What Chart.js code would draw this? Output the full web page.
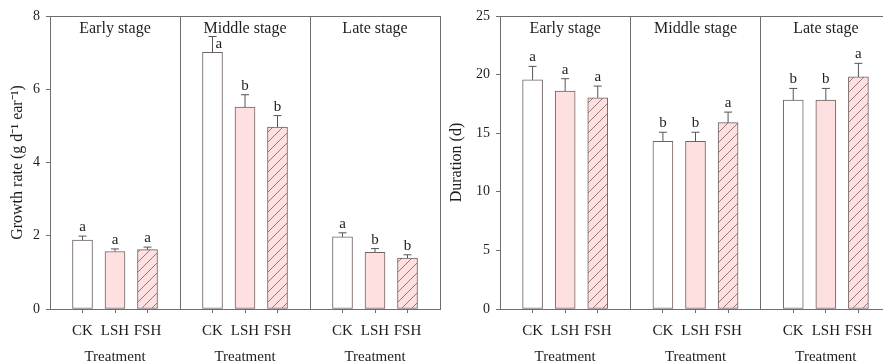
<!DOCTYPE html>
<html>
<head>
<meta charset="utf-8">
<script src="https://cdn.jsdelivr.net/npm/chart.js@4"></script>
<style>
  html, body { margin: 0; padding: 0; background: #fff; overflow: hidden; }
  body { width: 883px; height: 363px; position: relative; }
  .panel { position: absolute; top: 0; height: 363px; }
  #left { left: 0; width: 445px; }
  #right { left: 441px; width: 455px; }
</style>
</head>
<body>
<div class="panel" id="left"><canvas id="growth"></canvas></div>
<div class="panel" id="right"><canvas id="duration"></canvas></div>
<script>
const stages = ['Early stage', 'Middle stage', 'Late stage'];
const treatments = ['CK', 'LSH', 'FSH'];

// growth rate (g d-1 ear-1), per treatment across stages
const growthCK = [1.88, 7.01, 1.97];
const growthLSH = [1.57, 5.51, 1.55];
const growthFSH = [1.62, 4.97, 1.39];
const growthErrCK = [0.11, 0.43, 0.11];
const growthErrLSH = [0.07, 0.34, 0.10];
const growthErrFSH = [0.07, 0.31, 0.09];
const growthLettersCK = ['a', 'a', 'a'];
const growthLettersLSH = ['a', 'b', 'b'];
const growthLettersFSH = ['a', 'b', 'b'];
const growthTicks = [0, 2, 4, 6, 8];

// duration (d)
const durationCK = [19.56, 14.31, 17.82];
const durationLSH = [18.6, 14.31, 17.82];
const durationFSH = [18.02, 15.9, 19.8];
const durationErrCK = [1.14, 0.77, 1.0];
const durationErrLSH = [1.05, 0.77, 1.0];
const durationErrFSH = [1.0, 0.9, 1.16];
const durationLettersCK = ['a', 'b', 'b'];
const durationLettersLSH = ['a', 'b', 'b'];
const durationLettersFSH = ['a', 'a', 'a'];
const durationTicks = [0, 5, 10, 15, 20, 25];

const SERIF = '"Liberation Serif", "Times New Roman", serif';
const AXIS = '#6e6e6e';
const TEXT = '#1e1e1e';
const PINK = '#fde0df';
const EDGE = '#6f6262';

const hatch = (() => {
  const c = document.createElement('canvas');
  c.width = 10; c.height = 10;
  const g = c.getContext('2d');
  g.fillStyle = PINK;
  g.fillRect(0, 0, 10, 10);
  g.strokeStyle = 'rgba(110,80,80,0.8)';
  g.lineWidth = 0.9;
  g.beginPath();
  g.moveTo(-1, 11); g.lineTo(11, -1);
  g.moveTo(-1, 1); g.lineTo(1, -1);
  g.moveTo(9, 11); g.lineTo(11, 9);
  g.stroke();
  return g.createPattern(c, 'repeat');
})();

// bar slot along the x axis: 4 units per stage, bars at 1,2,3
const slot = (stage, t) => stage * 4 + t + 1;
const toPoints = (values, t) => values.map((y, s) => ({ x: slot(s, t), y }));

const barDataset = (label, values, errors, letters, t, fill) => ({
  label,
  data: toPoints(values, t),
  errors,
  letters,
  backgroundColor: fill,
  borderColor: EDGE,
  borderWidth: 1,
  borderSkipped: false,
  barThickness: 20,
  grouped: false,
});

const errorBars = {
  id: 'errorBars',
  afterDatasetsDraw(chart) {
    const { ctx, chartArea, scales: { y } } = chart;
    ctx.save();
    chart.data.datasets.forEach((ds, i) => {
      chart.getDatasetMeta(i).data.forEach((bar, j) => {
        const top = y.getPixelForValue(ds.data[j].y + ds.errors[j]);
        ctx.strokeStyle = '#555';
        ctx.lineWidth = 1;
        ctx.beginPath();
        ctx.moveTo(bar.x, bar.y);
        ctx.lineTo(bar.x, top);
        ctx.moveTo(bar.x - 4, top);
        ctx.lineTo(bar.x + 4, top);
        ctx.stroke();
        ctx.fillStyle = TEXT;
        ctx.font = `15px ${SERIF}`;
        ctx.textBaseline = 'alphabetic';
        if (top - 16 < chartArea.top + 26) {
          ctx.textAlign = 'left';
          ctx.fillText(ds.letters[j], bar.x + 3, top + 11);
        } else {
          ctx.textAlign = 'center';
          ctx.fillText(ds.letters[j], bar.x, top - 5);
        }
      });
    });
    ctx.restore();
  },
};

const stageTitles = {
  id: 'stageTitles',
  afterDraw(chart) {
    const { ctx, chartArea, scales: { x } } = chart;
    ctx.save();
    ctx.fillStyle = TEXT;
    ctx.font = `16px ${SERIF}`;
    ctx.textAlign = 'center';
    ctx.textBaseline = 'middle';
    stages.forEach((s, i) => {
      ctx.fillText(s, x.getPixelForValue(i * 4 + 2), chartArea.top + 13);
    });
    ctx.restore();
  },
};

const buildChart = (id, title, yTicks, series, yTitlePad) =>
  new Chart(document.getElementById(id), {
    type: 'bar',
    data: { datasets: series },
    plugins: [errorBars, stageTitles],
    options: {
      responsive: true,
      maintainAspectRatio: false,
      animation: false,
      layout: { padding: { top: 16, right: 5, left: 0, bottom: 0 } },
      plugins: { legend: { display: false }, tooltip: { enabled: false } },
      scales: {
        x: {
          type: 'linear',
          min: 0,
          max: 12,
          offset: false,
          afterBuildTicks: (s) => {
            s.ticks = [1, 2, 3, 4, 5, 6, 7, 8, 9, 10, 11, 12].map((value) => ({ value }));
          },
          afterFit: (s) => {
            s.height = 54;
            s.paddingLeft = 0;
            s.paddingRight = 0;
          },
          border: { color: AXIS, width: 1 },
          grid: {
            offset: false,
            color: (c) => (c.tick && c.tick.value % 4 === 0 ? AXIS : 'transparent'),
            tickColor: (c) => (c.tick && c.tick.value % 4 === 0 ? 'transparent' : AXIS),
            tickLength: 4,
          },
          ticks: {
            autoSkip: false,
            maxRotation: 0,
            padding: 5,
            color: TEXT,
            font: { family: SERIF, size: 15, lineHeight: 1.73 },
            callback: (v) => {
              if (v % 4 === 0) return '';
              const t = treatments[(v % 4) - 1];
              return t === 'LSH' ? [t, 'Treatment'] : t;
            },
          },
        },
        y: {
          min: yTicks[0],
          max: yTicks[yTicks.length - 1],
          afterBuildTicks: (s) => { s.ticks = yTicks.map((value) => ({ value })); },
          afterFit: (s) => { s.width = id === 'growth' ? 50 : 59; },
          border: { color: AXIS, width: 1 },
          grid: {
            color: (c) => (c.tick && c.tick.value === yTicks[yTicks.length - 1] ? AXIS : 'transparent'),
            tickColor: AXIS,
            tickLength: 4,
          },
          ticks: {
            padding: 6,
            color: TEXT,
            font: { family: SERIF, size: 14 },
          },
          title: {
            display: true,
            text: title,
            color: TEXT,
            padding: { top: yTitlePad, bottom: 0 },
            font: { family: SERIF, size: 16 },
          },
        },
      },
    },
  });

buildChart('growth', 'Growth rate (g d\u207B\u00B9 ear\u207B\u00B9)', growthTicks, [
  barDataset('CK', growthCK, growthErrCK, growthLettersCK, 0, '#ffffff'),
  barDataset('LSH', growthLSH, growthErrLSH, growthLettersLSH, 1, PINK),
  barDataset('FSH', growthFSH, growthErrFSH, growthLettersFSH, 2, hatch),
], 8);

buildChart('duration', 'Duration (d)', durationTicks, [
  barDataset('CK', durationCK, durationErrCK, durationLettersCK, 0, '#ffffff'),
  barDataset('LSH', durationLSH, durationErrLSH, durationLettersLSH, 1, PINK),
  barDataset('FSH', durationFSH, durationErrFSH, durationLettersFSH, 2, hatch),
], 6);
</script>
</body>
</html>
